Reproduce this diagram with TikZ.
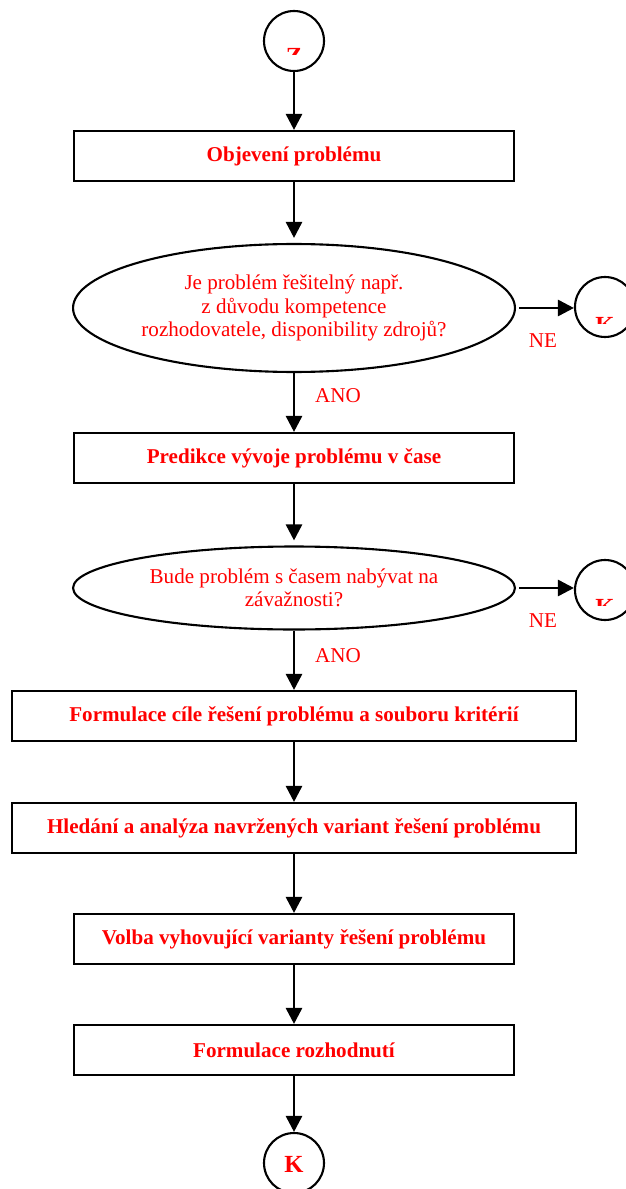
\documentclass[tikz,border=0pt]{standalone}
\usepackage{fontspec}
\setmainfont{Liberation Serif}
\usetikzlibrary{shapes.geometric,arrows.meta}
\begin{document}
\begin{tikzpicture}[
		x=0.02cm, y=-0.02cm,
		font=\fontsize{12}{13.3}\selectfont
	]
	\tikzset{
		stepbox/.style = {rectangle, draw=black, line width=1.2pt, fill=white,
			minimum width=8.8cm, minimum height=1cm, inner sep=0pt,
			text=red, font=\fontsize{12}{13.3}\selectfont\bfseries},
		widebox/.style = {stepbox, minimum width=11.28cm},
		decision/.style = {ellipse, draw=black, line width=1.2pt, inner sep=0pt,
			minimum width=8.84cm, align=center, text=red},
		endnode/.style = {circle, draw=black, line width=1.2pt, minimum size=1.2cm, inner sep=0pt},
		endtext/.style = {text=red, anchor=base, inner sep=0pt,
			font=\fontsize{14}{14}\selectfont\bfseries},
		answer/.style = {text=red, inner sep=0pt},
		arrow/.style = {-{Triangle[length=0.32cm,width=0.32cm]}, line width=1.5pt},
	}
	\useasboundingbox (0,0) rectangle (625,1189);
	% start
	\node[endnode] at (294,41) (z) {};
	\begin{scope}
		\clip (260,0) rectangle (330,55);
		\node[endtext] at (294,65) {Z};
	\end{scope}
	%
	\node[stepbox] at (294,156) (objev) {Objevení problému};
	\node[decision, minimum height=2.56cm] at (294,308) (resit)
		{Je problém řešitelný např.\\ z důvodu kompetence\\ rozhodovatele, disponibility zdrojů?};
	\node[endnode] at (605,307) (k1) {};
	\begin{scope}
		\clip (570,270) rectangle (640,323);
		\node[endtext] at (605,334) {K};
	\end{scope}
	\node[stepbox] at (294,458) (predik) {Predikce vývoje problému v čase};
	\node[decision, minimum height=1.66cm] at (294,588) (zavaz)
		{Bude problém s časem nabývat na\\ závažnosti?};
	\node[endnode] at (605,590) (k2) {};
	\begin{scope}
		\clip (570,555) rectangle (640,605);
		\node[endtext] at (605,615) {K};
	\end{scope}
	\node[widebox] at (294,716) (cil) {Formulace cíle řešení problému a souboru kritérií};
	\node[widebox] at (294,828) (hled) {Hledání a analýza navržených variant řešení problému};
	\node[stepbox] at (294,939) (volba) {Volba vyhovující varianty řešení problému};
	\node[stepbox] at (294,1050) (rozh) {Formulace rozhodnutí};
	\node[endnode] at (294,1163) (k) {};
	\node[endtext] at (294,1172) {K};
	%
	\node[answer] at (338,396) (ano1) {ANO};
	\node[answer] at (543,341) (ne1) {NE};
	\node[answer] at (338,656) (ano2) {ANO};
	\node[answer] at (543,621) (ne2) {NE};
	%
	\draw[arrow] (z) -- (objev);
	\draw[arrow, shorten >=0.1cm] (objev) -- (resit);
	\draw[arrow, shorten <=0.06cm] (resit.east) -- (k1.west |- resit.east);
	\draw[arrow] (resit) -- (predik);
	\draw[arrow, shorten >=0.1cm] (predik) -- (zavaz);
	\draw[arrow, shorten <=0.06cm] (zavaz.east) -- (k2.west |- zavaz.east);
	\draw[arrow] (zavaz) -- (cil);
	\draw[arrow] (cil) -- (hled);
	\draw[arrow] (hled) -- (volba);
	\draw[arrow] (volba) -- (rozh);
	\draw[arrow] (rozh) -- (k);
\end{tikzpicture}
\end{document}
